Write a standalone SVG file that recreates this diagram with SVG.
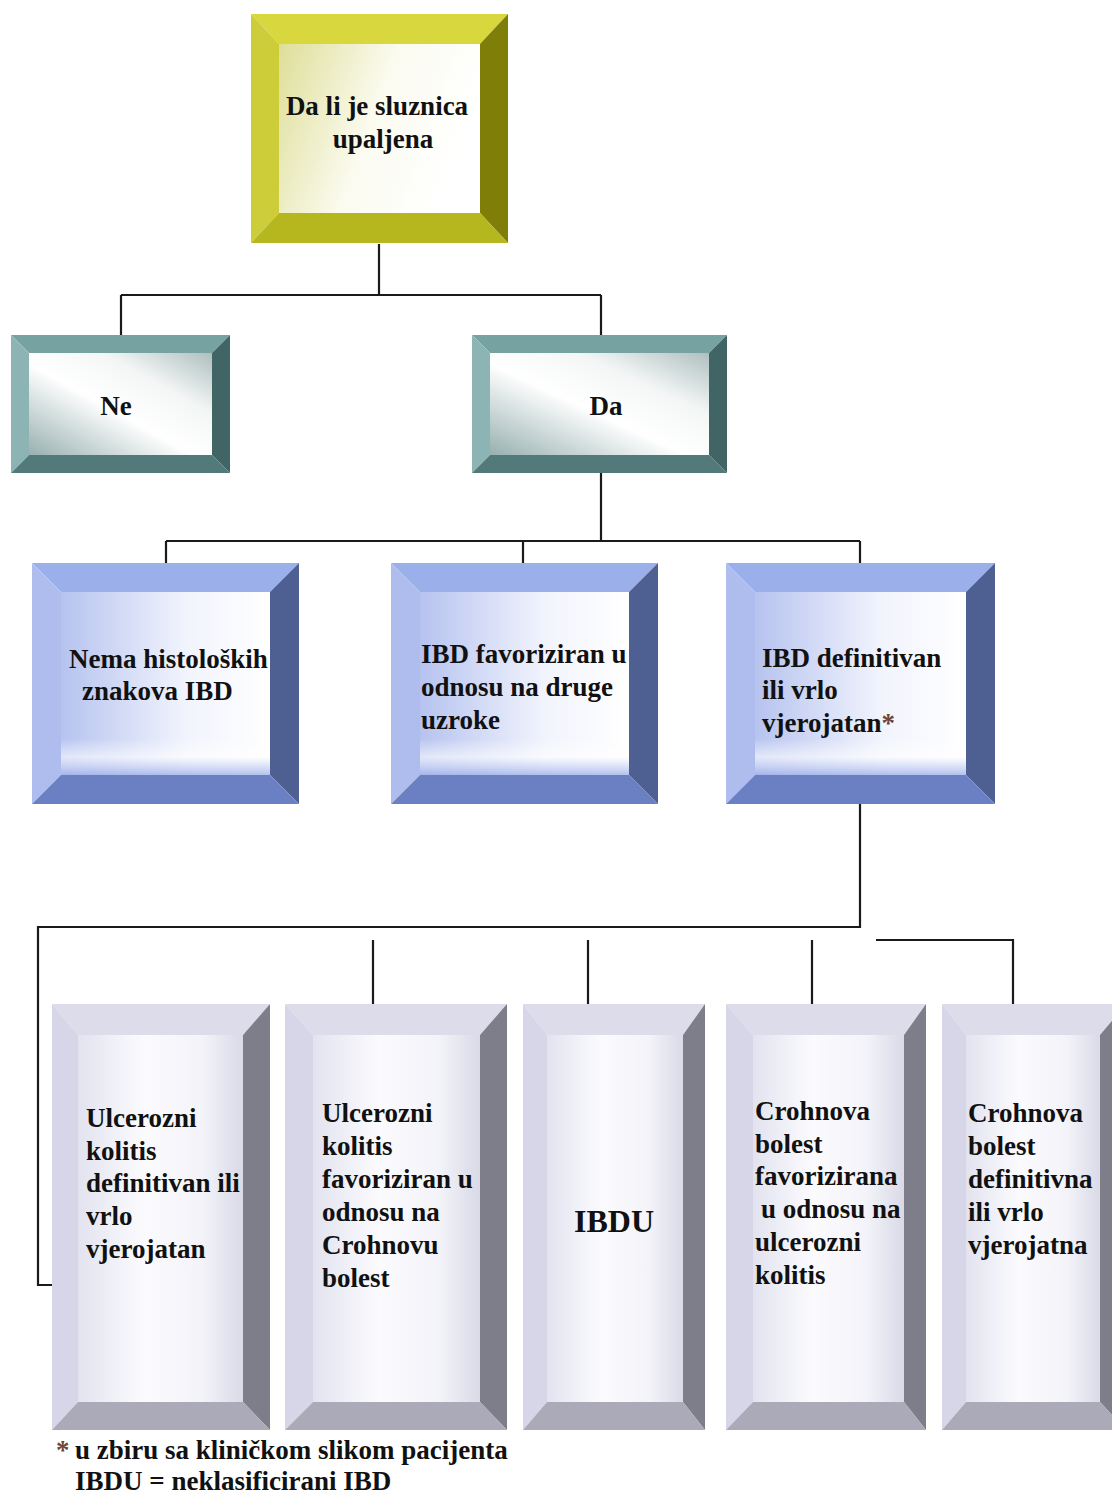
<svg xmlns="http://www.w3.org/2000/svg" width="1112" height="1495" viewBox="0 0 1112 1495">
<defs>
<style>
text{font-family:"Liberation Serif","Times New Roman",serif;font-weight:bold;font-size:27px;fill:#111}
.conn{fill:none;stroke:#1a1a1a;stroke-width:2.2}
.y-t{fill:#d8d83e}.y-l{fill:#cdcd3a}.y-r{fill:#7e7e08}.y-b{fill:#b6b61e}
.t-t{fill:#76a2a2}.t-l{fill:#8cb4b4}.t-r{fill:#416565}.t-b{fill:#537a7a}
.b-t{fill:#9bb0ea}.b-l{fill:#aebdee}.b-r{fill:#4e5f92}.b-b{fill:#6b80c2}
.g-t{fill:#dcdcea}.g-l{fill:#d6d6e8}.g-r{fill:#7e7e8a}.g-b{fill:#aaaab9}
.ast{fill:#6e4434}
</style>
<linearGradient id="gy" x1="0" y1="0" x2="1" y2="0.3">
<stop offset="0" stop-color="#dede98"/><stop offset="0.55" stop-color="#fbfbf0"/><stop offset="1" stop-color="#ffffff"/>
</linearGradient>
<linearGradient id="gt" x1="0" y1="1" x2="1" y2="0">
<stop offset="0" stop-color="#98b0b0"/><stop offset="0.45" stop-color="#ffffff"/><stop offset="0.7" stop-color="#f4f6f6"/><stop offset="1" stop-color="#aebfbf"/>
</linearGradient>
<linearGradient id="gb" x1="0" y1="0" x2="1" y2="0">
<stop offset="0" stop-color="#b6c3ef"/><stop offset="0.6" stop-color="#f2f4fd"/><stop offset="1" stop-color="#ffffff"/>
</linearGradient>
<linearGradient id="gbv" x1="0" y1="0" x2="0" y2="1">
<stop offset="0.8" stop-color="#ffffff" stop-opacity="0"/><stop offset="0.9" stop-color="#ffffff" stop-opacity="0.6"/><stop offset="1" stop-color="#9fb1ea" stop-opacity="0.8"/>
</linearGradient>
<linearGradient id="gg" x1="0" y1="0" x2="1" y2="0">
<stop offset="0" stop-color="#e3e3f0"/><stop offset="0.4" stop-color="#fbfbfe"/><stop offset="0.75" stop-color="#f3f3f9"/><stop offset="1" stop-color="#dadae8"/>
</linearGradient>
<linearGradient id="gline" x1="0" y1="0" x2="1" y2="0">
<stop offset="0" stop-color="#eaeaa0" stop-opacity="0"/><stop offset="1" stop-color="#e0e088"/>
</linearGradient>
</defs>
<rect width="1112" height="1495" fill="#ffffff"/>
<line x1="690" y1="94" x2="852" y2="94" stroke="url(#gline)" stroke-width="2"/>

<g id="connectors">
<path class="conn" d="M379,244 V295 M121,295 H601 M121,295 V335 M601,295 V335"/>
<path class="conn" d="M601,473 V541 M166,541 H860 M166,541 V563 M523,541 V563 M860,541 V563"/>
<path class="conn" d="M860,804 V927 H38 V1285 H52"/>
<path class="conn" d="M373,940 V1008 M588,940 V1008 M812,940 V1008 M876,940 H1013 V1008"/>
</g>

<g id="n-sluznica">
<polygon class="y-t" points="251,14 508,14 480,44 279,44"/>
<polygon class="y-l" points="251,14 279,44 279,213 251,243"/>
<polygon class="y-r" points="508,14 508,243 480,213 480,44"/>
<polygon class="y-b" points="251,243 279,213 480,213 508,243"/>
<rect x="279" y="44" width="201" height="169" fill="url(#gy)"/>
<text x="377" y="115" text-anchor="middle">Da li je sluznica</text>
<text x="383" y="148" text-anchor="middle">upaljena</text>
</g>

<g id="n-ne">
<polygon class="t-t" points="11,335 230,335 212,353 29,353"/>
<polygon class="t-l" points="11,335 29,353 29,455 11,473"/>
<polygon class="t-r" points="230,335 230,473 212,455 212,353"/>
<polygon class="t-b" points="11,473 29,455 212,455 230,473"/>
<rect x="29" y="353" width="183" height="102" fill="url(#gt)"/>
<text x="116" y="415" text-anchor="middle">Ne</text>
</g>

<g id="n-da">
<polygon class="t-t" points="472,335 727,335 709,353 490,353"/>
<polygon class="t-l" points="472,335 490,353 490,455 472,473"/>
<polygon class="t-r" points="727,335 727,473 709,455 709,353"/>
<polygon class="t-b" points="472,473 490,455 709,455 727,473"/>
<rect x="490" y="353" width="219" height="102" fill="url(#gt)"/>
<text x="606" y="415" text-anchor="middle">Da</text>
</g>

<g id="n-nema">
<polygon class="b-t" points="32,563 299,563 270,592 61,592"/>
<polygon class="b-l" points="32,563 61,592 61,775 32,804"/>
<polygon class="b-r" points="299,563 299,804 270,775 270,592"/>
<polygon class="b-b" points="32,804 61,775 270,775 299,804"/>
<rect x="61" y="592" width="209" height="183" fill="url(#gb)"/>
<rect x="61" y="592" width="209" height="183" fill="url(#gbv)"/>
<text x="69" y="668">Nema histoloških</text>
<text x="82" y="700">znakova IBD</text>
</g>

<g id="n-favoriziran">
<polygon class="b-t" points="391,563 658,563 629,592 420,592"/>
<polygon class="b-l" points="391,563 420,592 420,775 391,804"/>
<polygon class="b-r" points="658,563 658,804 629,775 629,592"/>
<polygon class="b-b" points="391,804 420,775 629,775 658,804"/>
<rect x="420" y="592" width="209" height="183" fill="url(#gb)"/>
<rect x="420" y="592" width="209" height="183" fill="url(#gbv)"/>
<text x="421" y="663">IBD favoriziran u</text>
<text x="421" y="696">odnosu na druge</text>
<text x="421" y="729">uzroke</text>
</g>

<g id="n-definitivan">
<polygon class="b-t" points="726,563 995,563 966,592 755,592"/>
<polygon class="b-l" points="726,563 755,592 755,775 726,804"/>
<polygon class="b-r" points="995,563 995,804 966,775 966,592"/>
<polygon class="b-b" points="726,804 755,775 966,775 995,804"/>
<rect x="755" y="592" width="211" height="183" fill="url(#gb)"/>
<rect x="755" y="592" width="211" height="183" fill="url(#gbv)"/>
<text x="762" y="667">IBD definitivan</text>
<text x="762" y="699">ili vrlo</text>
<text x="762" y="732">vjerojatan<tspan class="ast">*</tspan></text>
</g>

<g id="n-uk-def">
<polygon class="g-t" points="52,1004 270,1004 243,1035 78,1035"/>
<polygon class="g-l" points="52,1004 78,1035 78,1402 52,1430"/>
<polygon class="g-r" points="270,1004 270,1430 243,1402 243,1035"/>
<polygon class="g-b" points="52,1430 78,1402 243,1402 270,1430"/>
<rect x="78" y="1035" width="165" height="367" fill="url(#gg)"/>
<text x="86" y="1127">Ulcerozni</text>
<text x="86" y="1160">kolitis</text>
<text x="86" y="1192">definitivan ili</text>
<text x="86" y="1225">vrlo</text>
<text x="86" y="1258">vjerojatan</text>
</g>

<g id="n-uk-fav">
<polygon class="g-t" points="285,1004 507,1004 480,1035 313,1035"/>
<polygon class="g-l" points="285,1004 313,1035 313,1402 285,1430"/>
<polygon class="g-r" points="507,1004 507,1430 480,1402 480,1035"/>
<polygon class="g-b" points="285,1430 313,1402 480,1402 507,1430"/>
<rect x="313" y="1035" width="167" height="367" fill="url(#gg)"/>
<text x="322" y="1122">Ulcerozni</text>
<text x="322" y="1155">kolitis</text>
<text x="322" y="1188">favoriziran u</text>
<text x="322" y="1221">odnosu na</text>
<text x="322" y="1254">Crohnovu</text>
<text x="322" y="1287">bolest</text>
</g>

<g id="n-ibdu">
<polygon class="g-t" points="523,1004 705,1004 683,1035 547,1035"/>
<polygon class="g-l" points="523,1004 547,1035 547,1402 523,1430"/>
<polygon class="g-r" points="705,1004 705,1430 683,1402 683,1035"/>
<polygon class="g-b" points="523,1430 547,1402 683,1402 705,1430"/>
<rect x="547" y="1035" width="136" height="367" fill="url(#gg)"/>
<text x="614" y="1232" text-anchor="middle" style="font-size:32px">IBDU</text>
</g>

<g id="n-cb-fav">
<polygon class="g-t" points="726,1004 926,1004 904,1035 753,1035"/>
<polygon class="g-l" points="726,1004 753,1035 753,1402 726,1430"/>
<polygon class="g-r" points="926,1004 926,1430 904,1402 904,1035"/>
<polygon class="g-b" points="726,1430 753,1402 904,1402 926,1430"/>
<rect x="753" y="1035" width="151" height="367" fill="url(#gg)"/>
<text x="755" y="1120">Crohnova</text>
<text x="755" y="1153">bolest</text>
<text x="755" y="1185">favorizirana</text>
<text x="761" y="1218">u odnosu na</text>
<text x="755" y="1251">ulcerozni</text>
<text x="755" y="1284">kolitis</text>
</g>

<g id="n-cb-def">
<polygon class="g-t" points="942,1004 1126,1004 1100,1035 966,1035"/>
<polygon class="g-l" points="942,1004 966,1035 966,1402 942,1430"/>
<polygon class="g-r" points="1126,1004 1126,1430 1100,1402 1100,1035"/>
<polygon class="g-b" points="942,1430 966,1402 1100,1402 1126,1430"/>
<rect x="966" y="1035" width="134" height="367" fill="url(#gg)"/>
<text x="968" y="1122">Crohnova</text>
<text x="968" y="1155">bolest</text>
<text x="968" y="1188">definitivna</text>
<text x="968" y="1221">ili vrlo</text>
<text x="968" y="1254">vjerojatna</text>
</g>

<g id="footnote">
<text x="56" y="1459"><tspan class="ast">*</tspan></text>
<text x="75" y="1459">u zbiru sa kliničkom slikom pacijenta</text>
<text x="75" y="1490">IBDU = neklasificirani IBD</text>
</g>
</svg>
